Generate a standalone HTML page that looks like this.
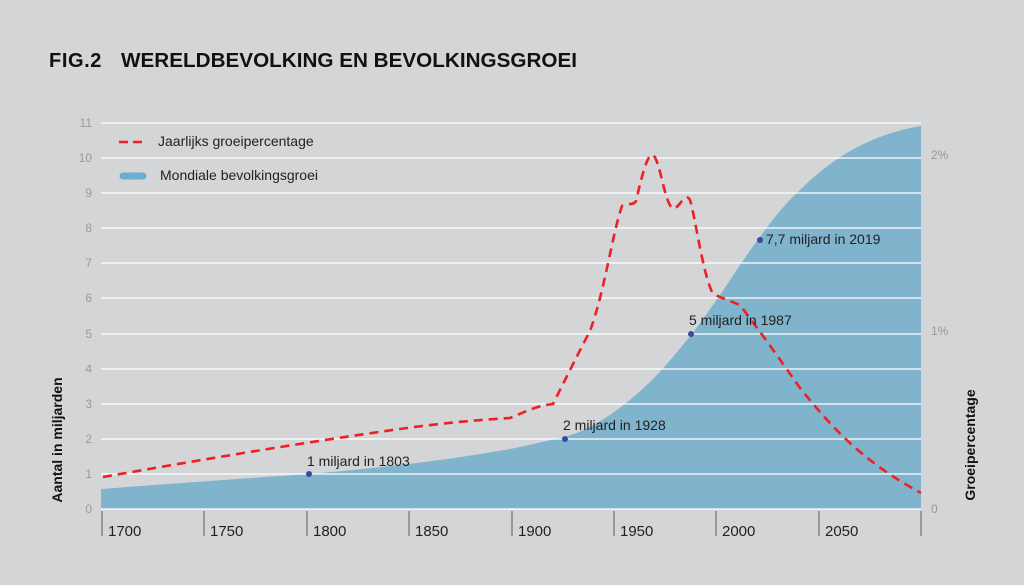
<!DOCTYPE html>
<html><head><meta charset="utf-8"><style>
body{margin:0;background:#d4d5d7;}
svg{display:block;font-family:"Liberation Sans","DejaVu Sans",sans-serif;}
</style></head><body>
<svg width="1024" height="585" viewBox="0 0 1024 585">
<rect width="1024" height="585" fill="#d4d5d7"/>
<text x="49" y="67" font-size="20" font-weight="bold" fill="#111" letter-spacing="0.6">FIG.2</text>
<text x="121" y="67" font-size="20" font-weight="bold" fill="#111" textLength="456" lengthAdjust="spacingAndGlyphs">WERELDBEVOLKING EN BEVOLKINGSGROEI</text>
<path d="M101,489 C180,483 250,478 309,474 C380,468 450,460 510,449 C535,444 550,440 565,437 C595,428 620,410 650,382 C670,362 680,348 692,334 C710,310 725,288 740,265 C760,236 780,208 800,190 C840,150 880,133 921,126 L921,509 L101,509 Z" fill="#80b3cc"/>
<g stroke="#fff" stroke-width="1.6" opacity="0.85">
<line x1="101" y1="509" x2="921" y2="509"/>
<line x1="101" y1="474" x2="921" y2="474"/>
<line x1="101" y1="439" x2="921" y2="439"/>
<line x1="101" y1="404" x2="921" y2="404"/>
<line x1="101" y1="369" x2="921" y2="369"/>
<line x1="101" y1="334" x2="921" y2="334"/>
<line x1="101" y1="298" x2="921" y2="298"/>
<line x1="101" y1="263" x2="921" y2="263"/>
<line x1="101" y1="228" x2="921" y2="228"/>
<line x1="101" y1="193" x2="921" y2="193"/>
<line x1="101" y1="158" x2="921" y2="158"/>
<line x1="101" y1="123" x2="921" y2="123"/>
</g>
<g font-size="12" fill="#999" text-anchor="end">
<text x="92" y="513">0</text><text x="92" y="478">1</text><text x="92" y="443">2</text><text x="92" y="408">3</text><text x="92" y="373">4</text><text x="92" y="338">5</text><text x="92" y="302">6</text><text x="92" y="267">7</text><text x="92" y="232">8</text><text x="92" y="197">9</text><text x="92" y="162">10</text><text x="92" y="127">11</text>
</g>
<g font-size="12" fill="#999">
<text x="931" y="513">0</text><text x="931" y="335">1%</text><text x="931" y="159">2%</text>
</g>
<g stroke="#999" stroke-width="2">
<line x1="102" y1="511" x2="102" y2="536"/><line x1="204" y1="511" x2="204" y2="536"/><line x1="307" y1="511" x2="307" y2="536"/><line x1="409" y1="511" x2="409" y2="536"/><line x1="512" y1="511" x2="512" y2="536"/><line x1="614" y1="511" x2="614" y2="536"/><line x1="716" y1="511" x2="716" y2="536"/><line x1="819" y1="511" x2="819" y2="536"/><line x1="921" y1="511" x2="921" y2="536"/>
</g>
<g font-size="15" fill="#222">
<text x="108" y="536">1700</text><text x="210" y="536">1750</text><text x="313" y="536">1800</text><text x="415" y="536">1850</text><text x="518" y="536">1900</text><text x="620" y="536">1950</text><text x="722" y="536">2000</text><text x="825" y="536">2050</text>
</g>
<path d="M103,477 C200,460 300,443 400,429 C450,422 480,420 510,418 C525,412 535,406 553,404 C565,380 580,350 590,331 C605,290 612,235 622,206 C630,203 634,205 636,201 C642,175 648,152 653,155 C660,160 664,200 672,208 C678,212 685,190 690,200 C696,220 702,270 712,292 C716,296 720,297 740,305 C755,325 770,345 800,388 C830,425 860,460 921,493" fill="none" stroke="#ee2024" stroke-width="2.6" stroke-dasharray="9,6"/>
<g fill="#3a4aa0"><circle cx="309" cy="474" r="3"/><circle cx="565" cy="439" r="3"/><circle cx="691" cy="334" r="3"/><circle cx="760" cy="240" r="3"/></g>
<g font-size="14" fill="#222">
<text x="307" y="466">1 miljard in 1803</text>
<text x="563" y="430">2 miljard in 1928</text>
<text x="689" y="325">5 miljard in 1987</text>
<text x="766" y="244">7,7 miljard in 2019</text>
</g>
<line x1="119" y1="142" x2="142" y2="142" stroke="#ee2024" stroke-width="2.6" stroke-dasharray="9,5"/>
<line x1="123" y1="176" x2="143" y2="176" stroke="#6aaed0" stroke-width="7" stroke-linecap="round"/>
<g font-size="14" fill="#222"><text x="158" y="146">Jaarlijks groeipercentage</text><text x="160" y="180">Mondiale bevolkingsgroei</text></g>
<text transform="translate(62,440) rotate(-90)" font-size="14" font-weight="bold" fill="#111" text-anchor="middle">Aantal in miljarden</text>
<text transform="translate(975,445) rotate(-90)" font-size="14" font-weight="bold" fill="#111" text-anchor="middle">Groeipercentage</text>
</svg>
</body></html>
